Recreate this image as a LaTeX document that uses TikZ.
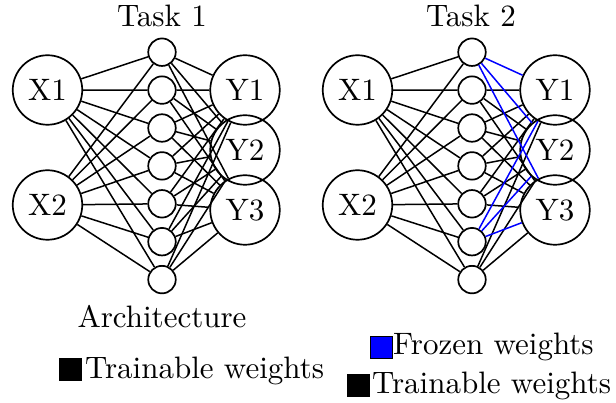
\documentclass[tikz,border=0pt]{standalone}
\usepackage{fontspec}
\setmainfont{lmroman10-regular.otf}
\begin{document}
\begin{tikzpicture}[x=1pt,y=-1pt,
  big/.style={circle,draw,line width=1.7pt,minimum size=69.5pt,inner sep=0pt,font=\fontsize{31}{37}\selectfont},
  small/.style={circle,draw,line width=1.7pt,minimum size=27.5pt,inner sep=0pt},
  conn/.style={line width=1.5pt,black},
  frozen/.style={line width=1.5pt,blue},
  lbl/.style={inner sep=0pt,font=\fontsize{31}{37}\selectfont},
  sqbox/.style={draw=black,line width=0.8pt,minimum size=22pt,inner sep=0pt}]
\useasboundingbox (0,0) rectangle (616,403);
\foreach \o/\t in {0/1,310/2}{
  \node[big] (x1-\t) at ({47.5+\o},90) {X1};
  \node[big] (x2-\t) at ({47.5+\o},205) {X2};
  \node[big] (y1-\t) at ({245+\o},90) {Y1};
  \node[big] (y2-\t) at ({245+\o},150) {Y2};
  \node[big] (y3-\t) at ({245+\o},210) {Y3};
  \foreach \k in {1,...,7}
    \node[small] (h\k-\t) at ({162+\o},{52.2+37.9*(\k-1)}) {};
  \foreach \i in {1,2}
    \foreach \k in {1,...,7}
      \draw[conn] (x\i-\t) -- (h\k-\t);
}
% Task 1: all hidden-to-output weights trainable
\foreach \k in {1,...,7}
  \foreach \j in {1,2,3}
    \draw[conn] (h\k-1) -- (y\j-1);
% Task 2: frozen weights in blue
\foreach \k in {2,3,4,5,7}
  \foreach \j in {1,2,3}
    \draw[conn] (h\k-2) -- (y\j-2);
\foreach \k in {1,6}
  \foreach \j in {1,2,3}
    \draw[frozen] (h\k-2) -- (y\j-2);
% labels
\node[lbl,anchor=base] (task1) at (162,27) {Task 1};
\node[lbl,anchor=base] (task2) at (471,27) {Task 2};
\node[lbl,anchor=base] (arch) at (162,328) {Architecture};
% legends
\node[sqbox,fill=black] (sq1) at (70.5,369.5) {};
\node[lbl,anchor=base west] (leg1) at (85,378) {Trainable weights};
\node[sqbox,fill=blue] (sq2) at (381,347.5) {};
\node[lbl,anchor=base west] (leg2) at (393,355) {Frozen weights};
\node[sqbox,fill=black] (sq3) at (358,385.5) {};
\node[lbl,anchor=base west] (leg3) at (372,393) {Trainable weights};
\end{tikzpicture}
\end{document}
